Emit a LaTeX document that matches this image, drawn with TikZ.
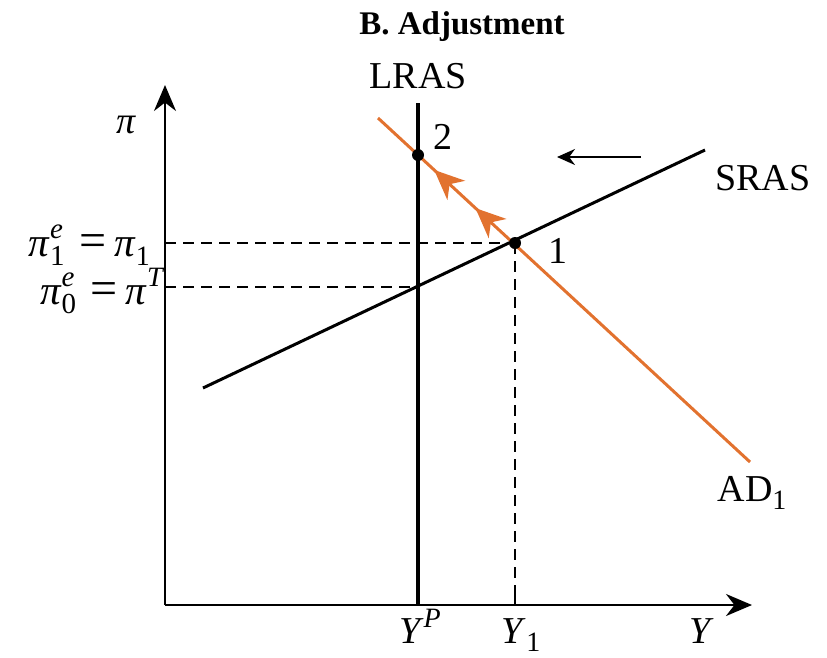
\documentclass[tikz,border=0pt]{standalone}
\usepackage{fontspec}
\setmainfont{Liberation Serif}
\usepackage{tikz}
\usetikzlibrary{ positioning, arrows.meta, calc, decorations.markings }
\usepackage{xcolor}
\definecolor{adcol}{HTML}{E2722F}
% stacked super/subscript in text italic
\newcommand{\ssc}[2]{\makebox[0pt][l]{\raisebox{0.42em}{\fontsize{29}{29}\selectfont\itshape #1}}%
  \raisebox{-0.22em}{\fontsize{29}{29}\selectfont #2}}
\newcommand{\sub}[1]{\raisebox{-0.22em}{\fontsize{28}{28}\selectfont #1}}
\newcommand{\sups}[1]{\raisebox{0.42em}{\fontsize{28}{28}\selectfont\itshape #1}}
\newcommand{\eqs}{\hspace{0.35em}{\fontsize{48}{48}\selectfont =}\hspace{0.2em}}

\begin{document}
\begin{tikzpicture}[
  x=1pt, y=-1pt,
  lbl/.style={font=\fontsize{38}{42}\selectfont, inner sep=0pt},
  plbl/.style={lbl, font=\fontsize{41}{44}\selectfont, anchor=base east},
  axis/.style={line width=2.4pt, -{Stealth[length=26pt, width=22pt]}},
  curve/.style={line width=3pt},
  guide/.style={line width=1.4pt, dash pattern=on 11pt off 7pt},
  pt/.style={circle, fill=black, inner sep=0pt, minimum size=12pt},
  adline/.style={curve, adcol, postaction={decorate}, decoration={markings,
      mark=at position 0.738 with {\arrow{Stealth[length=30pt, width=26pt, inset=9pt]}},
      mark=at position 0.849 with {\arrow{Stealth[length=30pt, width=26pt, inset=9pt]}}}},
]
  \useasboundingbox (0,0) rectangle (827,657);
  % axes
  \coordinate (O) at (165,605);
  \coordinate (ytop) at (165,85);
  \coordinate (xend) at (752,605);
  \draw[axis] (O) -- (ytop);
  \draw[axis] (O) -- (xend);
  % curves
  \coordinate (lrasT) at (418,103);
  \coordinate (lrasB) at (418,605);
  \coordinate (srasL) at (203,388);
  \coordinate (srasR) at (705,150);
  \coordinate (adB) at (750,462);
  \coordinate (adT) at (378,118);
  \coordinate (e1) at (515,243);
  \coordinate (e2) at (418,155);
  \coordinate (e0) at (418,287);
  \coordinate (y1ax) at (515,605);
  \coordinate (p1ax) at (165,243);
  \coordinate (p0ax) at (165,287);
  \draw[guide] (p1ax) -- (e1);
  \draw[guide] (p0ax) -- (e0);
  \draw[guide] (e1) -- (y1ax);
  \draw[line width=1.4pt] (y1ax) -- ++(0,-10);
  \draw[line width=4pt] (lrasT) -- (lrasB);
  \draw[curve] (srasL) -- (srasR);
  \draw[adline] (adB) -- (adT);
  \node[pt] (n1) at (e1) {};
  \node[pt] (n2) at (e2) {};
  % shift arrow
  \coordinate (shA) at (641,157);
  \coordinate (shB) at (557,157);
  \draw[line width=2.2pt, -{Stealth[length=18pt, width=16pt]}] (shA) -- (shB);
  % labels
  \node[lbl, font=\fontsize{33}{38}\selectfont\bfseries] (title) at (462,27) {B. Adjustment};
  \node[lbl] (lras) at (418,76) {LRAS};
  \node[lbl] (sras) at (763,178) {SRAS};
  \node[lbl] (ad) at (752,493) {AD\sub{1}};
  \node[lbl] (lb2) at (443,137) {2};
  \node[lbl] (lb1) at (558,251) {1};
  \node[lbl, anchor=base] (pi) at (126,133) {\textit{π}};
  \node[plbl] (pi1) at (150,256) {\textit{π}\ssc{e}{1}\eqs\textit{π}\sub{1}};
  \node[plbl] (pi0) at (163,304) {\textit{π}\ssc{e}{0}\eqs\textit{π}\sups{T}};
  \node[lbl, anchor=base] (yp) at (420,643) {\textit{Y}\sups{P}};
  \node[lbl, anchor=base] (y1) at (521,643) {\textit{Y}\sub{1}};
  \node[lbl, anchor=base] (yax) at (702,643) {\textit{Y}};
\end{tikzpicture}
\end{document}
